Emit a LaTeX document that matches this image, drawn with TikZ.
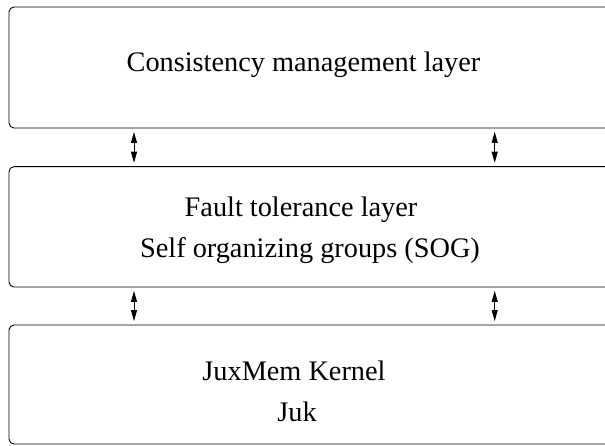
\documentclass[tikz,border=0pt]{standalone}
\usepackage{fontspec}
\setmainfont{Liberation Serif}
\usetikzlibrary{arrows.meta}
\begin{document}
\begin{tikzpicture}[x=1pt,y=1pt,
  layerbox/.style={draw=black, line width=0.9pt, rounded corners=5pt, rectangle, inner sep=0pt, minimum width=631pt},
  lbl/.style={anchor=base, inner sep=0pt, font=\fontsize{28.3}{34}\selectfont},
  arr/.style={line width=0.8pt, {Triangle[length=11pt,width=6pt]}-{Triangle[length=11pt,width=6pt]}}]
\useasboundingbox (0,0) rectangle (605,446);
\clip (0,0) rectangle (605,446);
\node[layerbox, minimum height=121pt] (top) at (324.5,378.5) {};
\node[layerbox, minimum height=120.3pt] (mid) at (324.5,219.15) {};
\node[layerbox, minimum height=119pt] (bot) at (324.5,61.5) {};
\node[lbl] (t1) at (303.5,374) {Consistency management layer};
\node[lbl] (m1) at (301,229) {Fault tolerance layer};
\node[lbl] (m2) at (310,188) {Self organizing groups (SOG)};
\node[lbl] (b1) at (294,65) {JuxMem Kernel};
\node[lbl] (b2) at (297,24) {Juk};
\coordinate (ax1) at (134,0);
\coordinate (ax2) at (494.7,0);
\draw[arr] ([yshift=-3.5pt]top.south -| ax1) -- ([yshift=3.5pt]mid.north -| ax1);
\draw[arr] ([yshift=-3.5pt]top.south -| ax2) -- ([yshift=3.5pt]mid.north -| ax2);
\draw[arr] ([yshift=-3.5pt]mid.south -| ax1) -- ([yshift=3.5pt]bot.north -| ax1);
\draw[arr] ([yshift=-3.5pt]mid.south -| ax2) -- ([yshift=3.5pt]bot.north -| ax2);
\end{tikzpicture}
\end{document}
